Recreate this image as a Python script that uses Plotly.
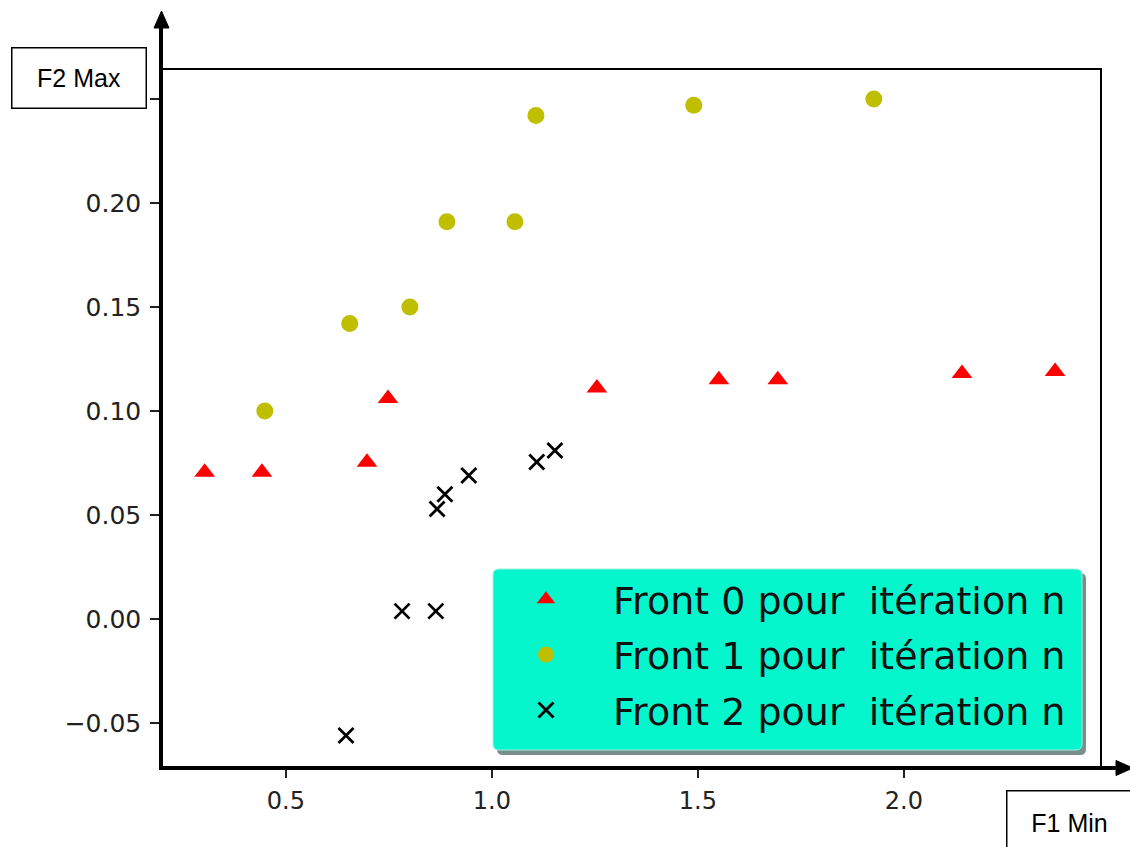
import plotly.graph_objects as go

# ---- data ----
f0_x = [0.303, 0.442, 0.697, 0.748, 1.255, 1.551, 1.694, 2.141, 2.367]
f0_y = [0.0706, 0.0706, 0.0754, 0.106, 0.111, 0.115, 0.115, 0.118, 0.119]
f1_x = [0.449, 0.655, 0.801, 0.891, 1.056, 1.107, 1.490, 1.927]
f1_y = [0.100, 0.142, 0.150, 0.191, 0.191, 0.242, 0.247, 0.250]
f2_x = [0.646, 0.782, 0.864, 0.867, 0.886, 0.944, 1.109, 1.153]
f2_y = [-0.056, 0.0038, 0.0038, 0.0529, 0.060, 0.069, 0.0755, 0.081]

names = ["Front\u00a00\u00a0pour\u00a0\u00a0itération\u00a0n",
         "Front\u00a01\u00a0pour\u00a0\u00a0itération\u00a0n",
         "Front\u00a02\u00a0pour\u00a0\u00a0itération\u00a0n"]
x_ticks = [0.5, 1.0, 1.5, 2.0]
y_ticks = [-0.05, 0.0, 0.05, 0.10, 0.15, 0.20, 0.25]
y_ticktext = ["\u22120.05", "0.00", "0.05", "0.10", "0.15", "0.20", ""]  # 0.25 label hidden by the F2 Max box
x_label = "F1 Min"
y_label = "F2 Max"

W, H = 1130, 847
L, R, T, B = 161, 1100, 70, 768   # plot area in pixels


def px(x):
    return (x - L) / (R - L)


def py(y):
    return (B - y) / (B - T)


fig = go.Figure()
fig.add_trace(go.Scatter(x=f0_x, y=f0_y, mode="markers", name=names[0], legendgroup="a",
                         marker=dict(symbol="triangle-up", size=18, color="#ff0000")))
fig.add_trace(go.Scatter(x=f1_x, y=f1_y, mode="markers", name=names[1], legendgroup="b",
                         marker=dict(symbol="circle", size=17, color="#bfbf00")))
fig.add_trace(go.Scatter(x=f2_x, y=f2_y, mode="markers", name=names[2], legendgroup="c",
                         marker=dict(symbol="x-thin", size=15, color="black",
                                     line=dict(width=2.8, color="black"))))

shapes = []


def rrect(x0, y0, x1, y1, r):
    return ("M {a},{b} L {c},{b} Q {x1},{b} {x1},{d} L {x1},{e} Q {x1},{f} {c},{f} "
            "L {a},{f} Q {x0},{f} {x0},{e} L {x0},{d} Q {x0},{b} {a},{b} Z").format(
        a=px(x0 + r), c=px(x1 - r), b=py(y0), d=py(y0 + r), e=py(y1 - r), f=py(y1),
        x0=px(x0), x1=px(x1))


# legend shadow + background (rounded)
shapes.append(dict(type="path", xref="paper", yref="paper", layer="above",
                   path=rrect(497, 573, 1086, 755, 6), fillcolor="#7a8f8b", line=dict(width=0)))
shapes.append(dict(type="path", xref="paper", yref="paper", layer="above",
                   path=rrect(493, 569, 1082, 750, 6), fillcolor="#05f5cd",
                   line=dict(width=1, color="#9ef0e0")))
# thick axes with arrows
shapes.append(dict(type="line", xref="paper", yref="paper", layer="above",
                   x0=px(161), y0=py(770), x1=px(161), y1=py(25), line=dict(width=4, color="black")))
shapes.append(dict(type="path", xref="paper", yref="paper", layer="above",
                   path="M {},{} L {},{} L {},{} Z".format(px(154), py(28), px(169), py(28), px(161.5), py(11)),
                   fillcolor="black", line=dict(width=1, color="black")))
shapes.append(dict(type="line", xref="paper", yref="paper", layer="above",
                   x0=px(159), y0=py(768), x1=px(1118), y1=py(768), line=dict(width=4, color="black")))
shapes.append(dict(type="path", xref="paper", yref="paper", layer="above",
                   path="M {},{} L {},{} L {},{} Z".format(px(1116), py(760.5), px(1116), py(775.5), px(1133), py(768)),
                   fillcolor="black", line=dict(width=1, color="black")))

annotations = [
    dict(text=y_label, xref="paper", yref="paper", x=px(11), y=py(47), xanchor="left", yanchor="top",
         showarrow=False, width=133, height=59, bgcolor="white", bordercolor="black", borderwidth=1.5,
         borderpad=0, align="center", valign="middle",
         font=dict(family="Liberation Sans, Arial", size=25, color="black")),
    dict(text=x_label, xref="paper", yref="paper", x=px(1006), y=py(790), xanchor="left", yanchor="top",
         showarrow=False, width=124, height=62, bgcolor="white", bordercolor="black", borderwidth=1.5,
         borderpad=0, align="center", valign="middle",
         font=dict(family="Liberation Sans, Arial", size=25, color="black")),
]

fig.update_layout(
    width=W, height=H,
    margin=dict(l=L, r=W - R, t=T, b=H - B, pad=0),
    plot_bgcolor="white", paper_bgcolor="white",
    showlegend=True,
    legend=dict(x=px(479), y=py(568), xanchor="left", yanchor="top",
                bgcolor="rgba(0,0,0,0)", borderwidth=0, tracegroupgap=3, itemwidth=124,
                font=dict(family="DejaVu Sans", size=38, color="#111")),
    shapes=shapes, annotations=annotations,
    font=dict(family="DejaVu Sans", color="#222"),
)
fig.update_xaxes(range=[0.197, 2.476], tickvals=x_ticks, tickformat=".1f",
                 ticks="outside", ticklen=8, tickwidth=1.5, tickcolor="#222",
                 ticklabelstandoff=2,
                 showline=True, mirror=True, linecolor="black", linewidth=1.5,
                 showgrid=False, zeroline=False, tickfont=dict(size=24, color="#222"))
fig.update_yaxes(range=[-0.0716, 0.2639], tickvals=y_ticks, ticktext=y_ticktext,
                 ticks="outside", ticklen=9, tickwidth=1.5, tickcolor="#222",
                 ticklabelstandoff=4,
                 showline=True, mirror=True, linecolor="black", linewidth=1.5,
                 showgrid=False, zeroline=False, tickfont=dict(size=25, color="#222"))

fig.write_html("out.html", config={"displayModeBar": False},
               post_script="document.body.style.margin='0';document.body.style.overflow='hidden';")
